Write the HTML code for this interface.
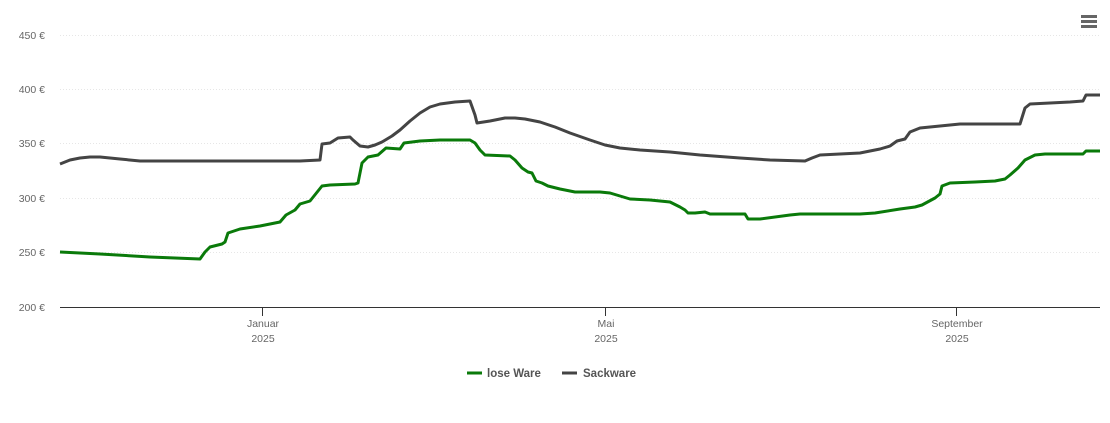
<!DOCTYPE html>
<html><head><meta charset="utf-8"><style>
body{margin:0;background:#fff;}
svg{display:block;font-family:"Liberation Sans",sans-serif;}
</style></head><body>
<svg width="1110" height="423" viewBox="0 0 1110 423">
<g stroke="#e6e6e6" stroke-width="1" stroke-dasharray="1,2">
<line x1="60" y1="35.5" x2="1100" y2="35.5"/>
<line x1="60" y1="89.5" x2="1100" y2="89.5"/>
<line x1="60" y1="143.5" x2="1100" y2="143.5"/>
<line x1="60" y1="198.5" x2="1100" y2="198.5"/>
<line x1="60" y1="252.5" x2="1100" y2="252.5"/>
</g>
<line x1="60" y1="307.5" x2="1100" y2="307.5" stroke="#333" stroke-width="1"/>
<g stroke="#333"><line x1="262.5" y1="307" x2="262.5" y2="316"/><line x1="605.5" y1="307" x2="605.5" y2="316"/><line x1="956.5" y1="307" x2="956.5" y2="316"/></g>
<g font-size="10.5" fill="#666" text-anchor="end">
<text x="45" y="39">450 €</text><text x="45" y="93">400 €</text><text x="45" y="147">350 €</text>
<text x="45" y="202">300 €</text><text x="45" y="256">250 €</text><text x="45" y="311">200 €</text>
</g>
<g font-size="10.5" fill="#666" text-anchor="middle">
<text x="263" y="327">Januar</text><text x="263" y="342">2025</text>
<text x="606" y="327">Mai</text><text x="606" y="342">2025</text>
<text x="957" y="327">September</text><text x="957" y="342">2025</text>
</g>
<polyline fill="none" stroke="#444" stroke-width="3" stroke-linejoin="round" points="60,164 70,160 80,158 90,157 100,157 120,159 140,161 150,161 300,161 320,160 322,144 330,143 338,138 350,137 353,140 360,146 368,147 375,145 382,142 392,136 400,130 410,121 420,113 430,107 440,104 455,102 470,101 475,115 477,123 490,121 505,118 515,118 525,119 540,122 555,127 570,133 590,140 605,145 620,148 640,150 670,152 700,155 740,158 770,160 805,161 812,158 820,155 840,154 860,153 880,149 890,146 897,141 905,139 910,132 920,128 940,126 960,124 1020,124 1025,108 1030,104 1050,103 1070,102 1083,101 1086,95 1100,95"/>
<polyline fill="none" stroke="#0a7a0a" stroke-width="3" stroke-linejoin="round" points="60,252 100,254 150,257 200,259 205,252 210,247 222,244 225,242 228,233 240,229 260,226 280,222 286,215 295,210 300,204 310,201 322,186 330,185 355,184 358,183 362,163 368,157 378,155 386,148 400,149 404,143 420,141 440,140 470,140 475,143 480,150 485,155 510,156 515,160 522,168 528,172 532,173 536,181 542,183 548,186 560,189 575,192 600,192 610,193 620,196 630,199 650,200 670,202 680,207 685,210 688,213 695,213 705,212 710,214 745,214 748,219 760,219 790,215 800,214 860,214 875,213 900,209 915,207 922,205 935,198 940,194 942,186 950,183 975,182 995,181 1005,179 1010,175 1018,168 1025,160 1035,155 1045,154 1083,154 1086,151 1100,151"/>
<g font-size="11.5" font-weight="bold" fill="#555">
<line x1="467" y1="373" x2="482" y2="373" stroke="#0a7a0a" stroke-width="3"/>
<text x="487" y="377">lose Ware</text>
<line x1="562" y1="373" x2="577" y2="373" stroke="#444" stroke-width="3"/>
<text x="583" y="377">Sackware</text>
</g>
<g stroke="#666" stroke-width="3"><line x1="1081" y1="16.5" x2="1097" y2="16.5"/><line x1="1081" y1="21.5" x2="1097" y2="21.5"/><line x1="1081" y1="26.5" x2="1097" y2="26.5"/></g>
</svg>
</body></html>
